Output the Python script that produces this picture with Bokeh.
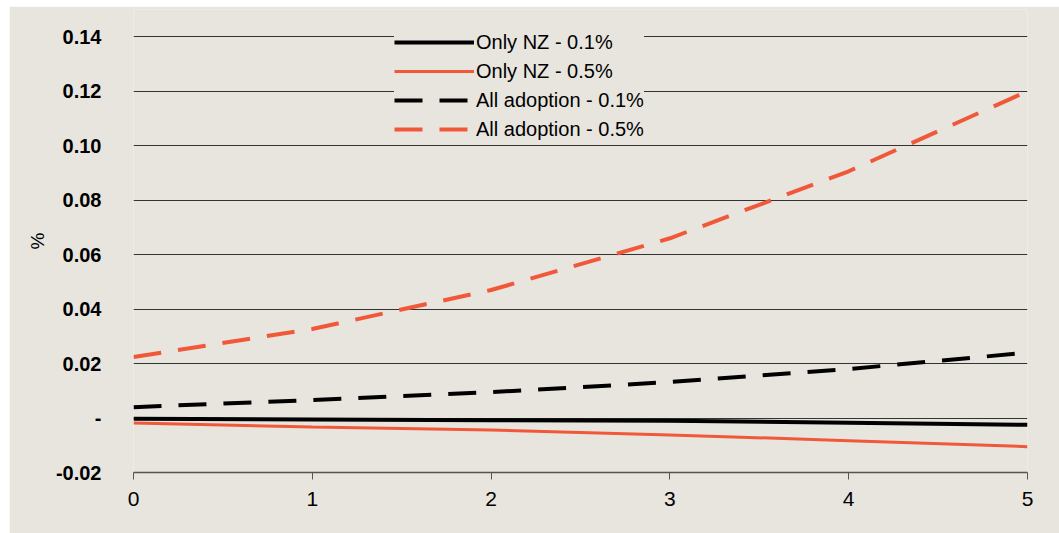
from bokeh.plotting import figure
from bokeh.models import FixedTicker, CustomJSTickFormatter, Legend, LegendItem, Range1d
from bokeh.embed import file_html
from bokeh.resources import INLINE

years = [0, 1, 2, 3, 4, 5]
only_nz_01 = [-0.0003, -0.0005, -0.0008, -0.001, -0.0017, -0.0025]
only_nz_05 = [-0.0018, -0.0033, -0.0044, -0.0062, -0.0083, -0.0105]
all_adopt_01 = [0.004, 0.0066, 0.0095, 0.0132, 0.018, 0.024]
all_adopt_05 = [0.0224, 0.0327, 0.047, 0.066, 0.0906, 0.120]
y_ticks = [-0.02, 0.0, 0.02, 0.04, 0.06, 0.08, 0.10, 0.12, 0.14]
x_ticks = [0, 1, 2, 3, 4, 5]

BG = "#E8E5DF"
RED = "#F1583A"
FONT = "Liberation Sans"

p = figure(width=1050, height=527, output_backend="svg", toolbar_location=None,
           x_range=Range1d(0, 5), y_range=Range1d(-0.02, 0.15),
           min_border_left=124, min_border_right=32, min_border_top=3, min_border_bottom=61,
           background_fill_color=BG, border_fill_color=BG)
p.margin = (6, 0, 0, 9)
p.outline_line_color = None

r1 = p.line(years, only_nz_01, line_color="black", line_width=4)
r2 = p.line(years, only_nz_05, line_color=RED, line_width=3)
r3 = p.line(years, all_adopt_01, line_color="black", line_width=4, line_dash="28 17")
r4 = p.line(years, all_adopt_05, line_color=RED, line_width=4, line_dash="28 17")

# axes
p.yaxis.ticker = FixedTicker(ticks=y_ticks)
p.yaxis.formatter = CustomJSTickFormatter(code="return Math.abs(tick) < 1e-9 ? '-' : tick.toFixed(2);")
p.yaxis.axis_line_color = None
p.yaxis.major_tick_line_color = None
p.yaxis.minor_tick_line_color = None
p.yaxis.major_label_text_font = FONT
p.yaxis.major_label_text_font_style = "bold"
p.yaxis.major_label_text_font_size = "20px"
p.yaxis.major_label_text_color = "black"
p.yaxis.major_label_standoff = 26
p.yaxis.axis_label = "%"
p.yaxis.axis_label_text_font = FONT
p.yaxis.axis_label_text_font_style = "normal"
p.yaxis.axis_label_text_font_size = "19px"
p.yaxis.axis_label_text_color = "black"
p.yaxis.axis_label_standoff = 5

p.xaxis.ticker = FixedTicker(ticks=x_ticks)
p.xaxis.axis_line_color = "#555555"
p.xaxis.axis_line_width = 1.5
p.xaxis.major_tick_line_color = "#555555"
p.xaxis.major_tick_in = 0
p.xaxis.major_tick_out = 7
p.xaxis.minor_tick_line_color = None
p.xaxis.major_label_text_font = FONT
p.xaxis.major_label_text_font_size = "21px"
p.xaxis.major_label_text_color = "black"
p.xaxis.major_label_standoff = 12

p.xgrid.grid_line_color = None
p.ygrid.ticker = FixedTicker(ticks=y_ticks)
p.ygrid.grid_line_color = "#333333"
p.ygrid.grid_line_width = 1

legend = Legend(items=[
    LegendItem(label="Only NZ - 0.1%", renderers=[r1]),
    LegendItem(label="Only NZ - 0.5%", renderers=[r2]),
    LegendItem(label="All adoption - 0.1%", renderers=[r3]),
    LegendItem(label="All adoption - 0.5%", renderers=[r4]),
], location=(261, 331))
legend.background_fill_color = BG
legend.background_fill_alpha = 1
legend.border_line_color = None
legend.padding = 8
legend.margin = 0
legend.spacing = 5
legend.glyph_width = 80
legend.glyph_height = 24
legend.label_height = 24
legend.label_standoff = 2
legend.label_text_font = FONT
legend.label_text_font_size = "20px"
legend.label_text_color = "black"
p.add_layout(legend, "center")

open("out.html", "w").write(file_html(p, INLINE))
